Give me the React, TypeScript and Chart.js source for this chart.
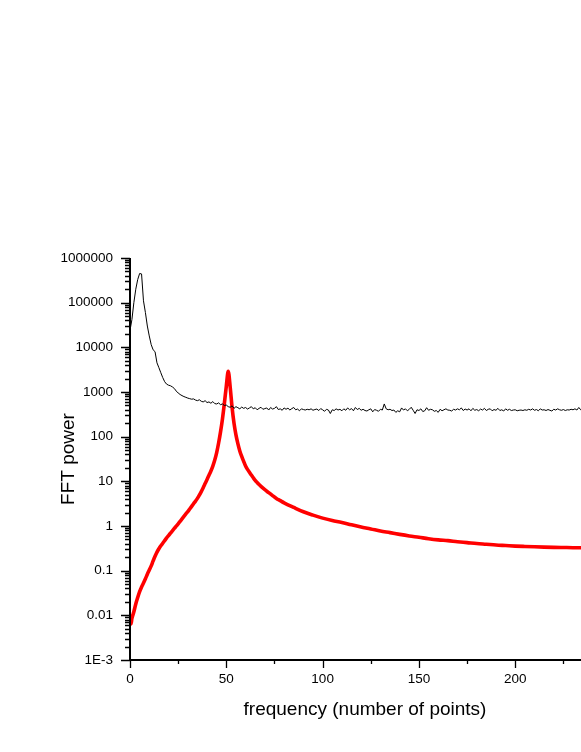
import React, { useEffect, useRef } from "react";
import { Chart, registerables } from "chart.js";

Chart.register(...registerables);

// ---- data ----
const blackPower: number[] = [
  24000, 42000, 100000, 200000, 330000, 450000, 440000, 110000, 60000, 30000,
  18000, 11500, 8800, 8000, 4500, 3500, 2700, 2100, 1700, 1500,
  1420, 1380, 1300, 1200, 1050, 950, 880, 830, 790, 760,
  730, 710, 690, 700, 660, 640, 670, 620, 600, 640,
  580, 600, 560, 610, 550, 540, 570, 520, 540, 500,
  510, 470, 455, 490, 430, 470, 445, 420, 460, 430,
  450, 415, 440, 470, 420, 445, 400, 430, 455, 410,
  425, 440, 395, 450, 415, 430, 470, 405, 420, 390,
  440, 410, 435, 395, 425, 450, 400, 415, 380, 420,
  405, 395, 410, 400, 420, 390, 405, 415, 385, 425,
  400, 370, 410, 395, 330, 400, 385, 420, 395, 410,
  380, 420, 390, 440, 400, 425, 380, 450, 405, 430,
  390, 410, 385, 375, 400, 420, 360, 405, 390, 370,
  410, 395, 540, 420, 400, 410, 385, 395, 350, 380,
  360, 440, 395, 420, 380, 410, 455, 390, 330, 400,
  385, 420, 365, 380, 445, 390, 410, 400, 370, 385,
  350, 410, 380, 400, 420, 395, 390, 375, 410, 395,
  420, 400, 440, 385, 415, 395, 420, 380, 430, 390,
  405, 380, 415, 395, 430, 385, 410, 420, 380, 405,
  390, 430, 385, 400, 375, 420, 390, 410, 385, 395,
  400, 380, 390, 395, 385, 400, 390, 410, 395, 420,
  390, 405, 380, 420, 395, 400, 385, 405, 390, 375,
  410, 395, 420, 400, 390, 405, 385, 400, 395, 410,
  400, 420, 395, 450, 400, 420, 430, 405, 440, 415,
  430, 420, 425, 430,
];

const redFreq: number[] = [
  0, 0.5, 1, 2, 3, 4, 5, 6, 7, 8, 9,
  10, 11, 12, 13, 14, 15, 16, 17, 18, 19,
  20, 21, 22, 23, 24, 25, 26, 27, 28, 29,
  30, 31, 32, 33, 34, 35, 36, 37, 38, 39,
  40, 41, 42, 43, 44, 45, 46, 47, 48, 49,
  50, 51, 52, 53, 54, 55, 56, 57, 58, 59,
  60, 61, 62, 63, 64, 65, 66, 67, 68, 70,
  72, 74, 76, 78, 80, 85, 90, 95, 100, 105,
  110, 115, 120, 125, 130, 135, 140, 145, 150, 155,
  160, 165, 170, 175, 180, 185, 190, 195, 200, 205,
  210, 215, 220, 225, 230, 235, 240, 244,
];
const redPower: number[] = [
  0.0098, 0.0064, 0.0085, 0.012, 0.018, 0.025, 0.034, 0.043, 0.053, 0.066, 0.083,
  0.103, 0.128, 0.165, 0.21, 0.26, 0.31, 0.36, 0.41, 0.47, 0.54,
  0.61, 0.69, 0.78, 0.88, 0.99, 1.12, 1.27, 1.44, 1.64, 1.86,
  2.1, 2.4, 2.75, 3.15, 3.6, 4.15, 4.9, 5.9, 7.2, 8.9,
  11, 13.7, 17, 22, 30, 44, 72, 128, 250, 560,
  1350, 2900, 1300, 450, 200, 110, 70, 48, 36, 28,
  22, 18.5, 16, 13.8, 12, 10.5, 9.4, 8.5, 7.7, 6.5,
  5.6, 4.8, 4.15, 3.7, 3.3, 2.6, 2.08, 1.75, 1.5, 1.33,
  1.2, 1.06, 0.95, 0.86, 0.77, 0.71, 0.65, 0.6, 0.56, 0.52,
  0.49, 0.47, 0.445, 0.425, 0.405, 0.39, 0.375, 0.365, 0.355, 0.348,
  0.342, 0.337, 0.333, 0.33, 0.327, 0.325, 0.323, 0.322,
];

const yTickValues: number[] = [1e-3, 1e-2, 0.1, 1, 10, 100, 1000, 1e4, 1e5, 1e6];
const yTickLabels: string[] = ["1E-3", "0.01", "0.1", "1", "10", "100", "1000", "10000", "100000", "1000000"];
const xTickValues: number[] = [0, 50, 100, 150, 200];
const xTickLabels: string[] = ["0", "50", "100", "150", "200"];
const xMinorTicks: number[] = [25, 75, 125, 175, 225];

const FONT = "'Liberation Sans', Arial, Helvetica, sans-serif";

const axisPlugin = {
  id: "axisTicks",
  afterDatasetsDraw(chart: any) {
    const { ctx, chartArea, scales } = chart;
    const xs = scales.x;
    const ys = scales.y;
    ctx.save();
    ctx.strokeStyle = "#000";
    ctx.lineWidth = 2;
    ctx.beginPath();
    ctx.moveTo(chartArea.left, chartArea.top);
    ctx.lineTo(chartArea.left, chartArea.bottom);
    ctx.lineTo(chartArea.right, chartArea.bottom);
    ctx.stroke();
    ctx.lineWidth = 1.3;
    ctx.beginPath();
    for (const v of yTickValues) {
      const py = Math.round(ys.getPixelForValue(v)) + 0.5;
      ctx.moveTo(chartArea.left - 9, py);
      ctx.lineTo(chartArea.left, py);
      if (v < 1e6) {
        for (let m = 2; m <= 9; m++) {
          const pm = Math.round(ys.getPixelForValue(v * m)) + 0.5;
          ctx.moveTo(chartArea.left - 5, pm);
          ctx.lineTo(chartArea.left, pm);
        }
      }
    }
    for (const v of xTickValues) {
      const px = Math.round(xs.getPixelForValue(v)) + 0.5;
      ctx.moveTo(px, chartArea.bottom);
      ctx.lineTo(px, chartArea.bottom + 8);
    }
    for (const v of xMinorTicks) {
      const px = Math.round(xs.getPixelForValue(v)) + 0.5;
      ctx.moveTo(px, chartArea.bottom);
      ctx.lineTo(px, chartArea.bottom + 4);
    }
    ctx.stroke();
    ctx.restore();
  },
};

export default function App() {
  const ref = useRef<HTMLCanvasElement | null>(null);
  useEffect(() => {
    if (!ref.current) return;
    Chart.defaults.color = "#000";
    const chart = new Chart(ref.current, {
      type: "line",
      data: {
        datasets: [
          {
            label: "signal",
            data: blackPower.map((v, i) => ({ x: i, y: v })),
            borderColor: "#000",
            borderWidth: 1,
            pointRadius: 0,
            tension: 0,
          },
          {
            label: "filter",
            data: redFreq.map((f, i) => ({ x: f, y: redPower[i] })),
            borderColor: "#ff0000",
            borderWidth: 3.6,
            borderJoinStyle: "round",
            borderCapStyle: "round",
            cubicInterpolationMode: "monotone",
            pointRadius: 0,
          },
        ],
      },
      options: {
        animation: false,
        responsive: false,
        devicePixelRatio: 1,
        layout: { padding: { top: 258, left: 0, right: 0, bottom: 0 } },
        plugins: { legend: { display: false }, tooltip: { enabled: false } },
        scales: {
          x: {
            type: "linear",
            min: 0,
            max: 244,
            afterBuildTicks: (s: any) => {
              s.ticks = xTickValues.map((v) => ({ value: v }));
            },
            afterFit: (s: any) => {
              s.height = 92;
            },
            grid: { display: false, drawTicks: false },
            border: { display: false },
            ticks: {
              autoSkip: false,
              maxRotation: 0,
              padding: 11,
              font: { family: FONT, size: 13.5 },
              color: "#000",
              callback: (_v: any, i: number) => xTickLabels[i],
            },
            title: {
              display: true,
              text: "frequency (number of points)",
              color: "#000",
              font: { family: FONT, size: 19 },
              padding: { top: 0, bottom: 30.7 },
            },
          },
          y: {
            type: "logarithmic",
            min: 1e-3,
            max: 1e6,
            afterBuildTicks: (s: any) => {
              s.ticks = yTickValues.map((v) => ({ value: v }));
            },
            afterFit: (s: any) => {
              s.width = 130;
            },
            grid: { display: false, drawTicks: false },
            border: { display: false },
            ticks: {
              autoSkip: false,
              padding: 17,
              font: { family: FONT, size: 13.5 },
              color: "#000",
              callback: (_v: any, i: number) => yTickLabels[i],
            },
            title: {
              display: true,
              text: "FFT power",
              color: "#000",
              font: { family: FONT, size: 19 },
              padding: { top: 57.6, bottom: 0 },
            },
          },
        },
      },
      plugins: [axisPlugin],
    });
    return () => chart.destroy();
  }, []);
  return (
    <div style={{ position: "absolute", left: 0, top: 0, width: 581, height: 752, overflow: "hidden", background: "#fff" }}>
      <canvas ref={ref} width={600} height={752} style={{ display: "block", width: 600, height: 752 }} />
    </div>
  );
}
